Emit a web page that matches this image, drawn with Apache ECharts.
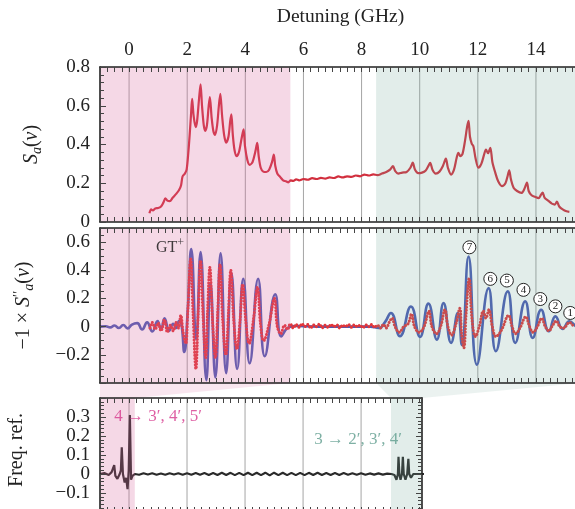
<!DOCTYPE html>
<html><head><meta charset="utf-8">
<script src="https://cdn.jsdelivr.net/npm/echarts@6/dist/echarts.min.js"></script>
<style>html,body{margin:0;padding:0;background:#fff}#c{width:575px;height:509px}</style>
</head><body><div id="c"></div>
<script>
const FONT = '"Liberation Serif","DejaVu Serif",serif';
const INK = '#222';

// ---------- data ----------
const xGrid = [0, 2, 4, 6, 8, 10, 12, 14];
const xGridRef = [0, 2, 4, 6, 8];
const pinkRegion = [-1, 5.55];
const tealRegion = [8.5, 15.6];
const pinkRegionRef = [-1, 0.2];
const tealRegionRef = [9.03, 10.2];

// S_a(nu) (top panel)
const saData = [[0.70,0.045],[0.76,0.065],[0.82,0.06],[0.9,0.07],[1.0,0.072],[1.1,0.08],[1.18,0.1],[1.25,0.122],[1.32,0.11],[1.4,0.108],[1.5,0.125],[1.62,0.145],[1.72,0.165],[1.79,0.19],[1.84,0.235],[1.92,0.25],[1.98,0.27],[2.04,0.36],[2.09,0.46],[2.13,0.55],[2.17,0.635],[2.22,0.55],[2.29,0.49],[2.34,0.52],[2.41,0.64],[2.46,0.71],[2.51,0.6],[2.57,0.5],[2.62,0.47],[2.68,0.5],[2.74,0.6],[2.78,0.645],[2.84,0.54],[2.9,0.47],[2.96,0.45],[3.03,0.5],[3.09,0.6],[3.14,0.662],[3.2,0.55],[3.27,0.45],[3.34,0.41],[3.42,0.44],[3.48,0.52],[3.52,0.555],[3.57,0.45],[3.63,0.37],[3.7,0.34],[3.78,0.36],[3.87,0.43],[3.94,0.478],[3.99,0.39],[4.07,0.32],[4.15,0.295],[4.25,0.31],[4.34,0.36],[4.41,0.408],[4.46,0.34],[4.53,0.28],[4.62,0.26],[4.72,0.258],[4.82,0.27],[4.92,0.31],[4.98,0.348],[5.03,0.29],[5.1,0.25],[5.2,0.232],[5.3,0.215],[5.4,0.21],[5.48,0.205],[5.56,0.215],[5.65,0.212],[5.75,0.22],[5.85,0.215],[6.0,0.222],[6.15,0.218],[6.3,0.226],[6.45,0.222],[6.6,0.228],[6.75,0.224],[6.9,0.23],[7.05,0.227],[7.2,0.235],[7.35,0.23],[7.5,0.236],[7.65,0.233],[7.8,0.24],[7.95,0.236],[8.1,0.245],[8.25,0.24],[8.4,0.246],[8.55,0.242],[8.7,0.25],[8.85,0.258],[8.98,0.27],[9.08,0.288],[9.16,0.262],[9.26,0.25],[9.4,0.255],[9.55,0.258],[9.68,0.28],[9.76,0.306],[9.84,0.27],[9.95,0.252],[10.08,0.255],[10.2,0.265],[10.3,0.29],[10.36,0.305],[10.44,0.27],[10.55,0.25],[10.68,0.26],[10.8,0.29],[10.9,0.327],[10.97,0.28],[11.08,0.245],[11.18,0.27],[11.27,0.33],[11.33,0.357],[11.4,0.34],[11.47,0.35],[11.56,0.42],[11.63,0.49],[11.68,0.522],[11.73,0.44],[11.79,0.405],[11.85,0.39],[11.92,0.33],[12.02,0.28],[12.12,0.3],[12.22,0.35],[12.28,0.374],[12.35,0.355],[12.43,0.383],[12.5,0.31],[12.6,0.255],[12.7,0.21],[12.83,0.185],[12.95,0.2],[13.03,0.24],[13.08,0.267],[13.14,0.22],[13.23,0.177],[13.35,0.16],[13.5,0.15],[13.6,0.17],[13.69,0.204],[13.75,0.16],[13.85,0.138],[13.97,0.13],[14.09,0.123],[14.17,0.14],[14.23,0.152],[14.3,0.125],[14.42,0.11],[14.55,0.095],[14.65,0.09],[14.72,0.105],[14.8,0.08],[14.92,0.065],[15.05,0.055],[15.15,0.052]];

// -1 x S''_a(nu): theory (blue line)
const theoryData = [[-1,0],[-0.8,0.003],[-0.65,-0.005],[-0.5,0.008],[-0.35,-0.01],[-0.2,0.012],[-0.05,-0.012],[0.1,0.015],[0.28,0.025],[0.45,-0.02],[0.62,0.03],[0.8,-0.035],[0.98,0.04],[1.1,-0.02],[1.22,0.06],[1.38,-0.03],[1.52,0.02],[1.62,-0.01],[1.72,0.04],[1.8,0.02],[1.9,-0.18],[2.02,0.12],[2.14,0.55],[2.31,-0.09],[2.46,0.53],[2.66,-0.38],[2.8,0.31],[2.97,-0.36],[3.15,0.52],[3.34,-0.33],[3.52,0.38],[3.72,-0.30],[3.93,0.34],[4.15,-0.26],[4.44,0.34],[4.67,-0.21],[5.03,0.23],[5.24,-0.07],[5.45,-0.01],[5.7,0.005],[6.5,0],[7.5,0],[8.3,0],[8.6,-0.01],[8.8,0.03],[9.01,0.097],[9.32,-0.068],[9.7,0.143],[10.01,-0.073],[10.3,0.163],[10.59,-0.092],[10.82,0.167],[11.08,-0.115],[11.31,0.097],[11.45,-0.13],[11.68,0.497],[11.97,-0.27],[12.37,0.273],[12.62,-0.174],[13.03,0.25],[13.29,-0.115],[13.63,0.179],[13.89,-0.08],[14.18,0.12],[14.44,-0.033],[14.67,0.073],[14.92,-0.016],[15.15,0.037],[15.4,0.0],[15.6,-0.01]];

// -1 x S''_a(nu): measured (red dots)
const measData = [[0.72,-0.01],[0.8,0.03],[0.9,-0.02],[1.0,0.025],[1.1,-0.03],[1.22,0.05],[1.32,-0.04],[1.42,0.01],[1.52,-0.03],[1.62,0.03],[1.7,-0.01],[1.78,0.08],[1.86,-0.04],[1.95,-0.12],[2.02,0.1],[2.12,0.48],[2.2,0.1],[2.3,-0.3],[2.38,0.1],[2.46,0.47],[2.54,0.1],[2.64,-0.22],[2.7,0.1],[2.78,0.42],[2.87,0.05],[2.97,-0.22],[3.05,0.1],[3.13,0.44],[3.22,0.05],[3.33,-0.2],[3.42,0.1],[3.5,0.4],[3.6,0.05],[3.71,-0.16],[3.82,0.05],[3.91,0.3],[4.02,0.03],[4.13,-0.12],[4.28,0.05],[4.42,0.28],[4.52,0.02],[4.63,-0.1],[4.82,0.02],[5.0,0.2],[5.1,0.0],[5.22,-0.05],[5.35,0.01],[5.45,-0.02],[5.55,0.02],[5.65,-0.01],[5.75,0.015],[5.85,-0.005],[5.95,0.02],[6.05,0.0],[6.15,0.015],[6.25,-0.01],[6.35,0.012],[6.45,0.0],[6.55,0.018],[6.65,-0.008],[6.75,0.01],[6.85,-0.005],[6.95,0.015],[7.05,0.0],[7.15,0.012],[7.25,-0.01],[7.35,0.01],[7.45,0.0],[7.55,0.015],[7.65,-0.005],[7.75,0.012],[7.85,0.0],[7.95,0.01],[8.05,-0.008],[8.15,0.012],[8.25,0.0],[8.35,0.015],[8.45,-0.005],[8.55,0.01],[8.65,-0.01],[8.75,0.015],[8.85,-0.01],[8.95,0.03],[9.05,0.06],[9.15,0.0],[9.3,-0.04],[9.45,0.0],[9.6,0.02],[9.72,0.09],[9.82,0.0],[9.98,-0.04],[10.15,0.0],[10.32,0.11],[10.42,0.0],[10.58,-0.05],[10.72,0.0],[10.87,0.12],[10.97,0.0],[11.1,-0.06],[11.25,0.02],[11.38,0.13],[11.44,-0.05],[11.52,-0.15],[11.6,0.1],[11.7,0.34],[11.8,0.05],[11.92,-0.07],[12.05,0.0],[12.19,0.11],[12.28,0.06],[12.38,0.12],[12.5,0.0],[12.62,-0.07],[12.8,-0.03],[13.06,0.08],[13.18,0.0],[13.3,-0.05],[13.45,-0.01],[13.65,0.07],[13.78,0.0],[13.9,-0.04],[14.05,0.0],[14.2,0.06],[14.32,0.0],[14.45,-0.03],[14.55,0.0],[14.7,0.04],[14.82,0.0],[14.95,-0.01],[15.15,0.03],[15.3,0.0]];

// Frequency reference (bottom panel)
const freqRefData = [[-1,0.0],[-0.85,0.005],[-0.7,-0.005],[-0.6,0.01],[-0.54,0.0],[-0.51,0.047],[-0.47,-0.01],[-0.4,-0.025],[-0.32,0.0],[-0.28,0.02],[-0.25,0.14],[-0.21,0.0],[-0.15,-0.045],[-0.1,-0.02],[-0.05,-0.08],[-0.01,0.02],[0.03,0.31],[0.07,-0.03],[0.12,-0.01],[0.2,0.0],[0.35,-0.004],[0.5,0.004],[0.65,-0.003],[0.8,0.004],[0.95,-0.004],[1.1,0.003],[1.25,-0.004],[1.4,0.004],[1.55,-0.003],[1.7,0.004],[1.85,-0.004],[2.0,0.004],[2.15,-0.004],[2.3,0.005],[2.45,-0.004],[2.6,0.005],[2.75,-0.005],[2.9,0.005],[3.05,-0.005],[3.2,0.006],[3.35,-0.005],[3.5,0.006],[3.65,-0.006],[3.8,0.006],[3.95,-0.006],[4.1,0.007],[4.25,-0.006],[4.4,0.007],[4.55,-0.006],[4.7,0.007],[4.85,-0.007],[5.0,0.007],[5.15,-0.006],[5.3,0.007],[5.45,-0.006],[5.6,0.006],[5.75,-0.006],[5.9,0.006],[6.05,-0.006],[6.2,0.006],[6.35,-0.005],[6.5,0.006],[6.65,-0.005],[6.8,0.005],[6.95,-0.005],[7.1,0.005],[7.25,-0.005],[7.4,0.005],[7.55,-0.004],[7.7,0.004],[7.85,-0.004],[8.0,0.004],[8.15,-0.004],[8.3,0.003],[8.45,-0.003],[8.6,0.003],[8.75,-0.003],[8.9,0.002],[9.05,0.0],[9.15,-0.005],[9.22,-0.03],[9.27,0.0],[9.29,0.09],[9.32,0.0],[9.36,-0.03],[9.41,0.0],[9.44,0.09],[9.47,0.0],[9.53,-0.03],[9.59,0.0],[9.63,0.08],[9.66,0.0],[9.72,-0.02],[9.8,0.0],[10.2,0.0]];

// annotations
const circlePos = [[11.71,0.563],[12.43,0.339],[13.0,0.327],[13.57,0.261],[14.15,0.196],[14.67,0.144],[15.18,0.097]];
const circleText = ['7','6','5','4','3','2','1'];
const gtPos = [1.41, 0.56];
const refLabelA = [1.0, 0.305];
const refLabelB = [7.9, 0.179];

// ---------- layout ----------
const X_MIN = -1, X_MAX = 15.55, X_MAX_REF = 10.1;
const PINK = 'rgba(215,100,155,0.25)';
const TEAL = 'rgba(110,165,150,0.20)';

function numFmt(v) {
  const r = Math.round(v * 10) / 10;
  return r === 0 ? '0' : String(r).replace('-', '\u2212');
}
function xLabelFmt(v) {
  const r = Math.round(v);
  if (Math.abs(v - r) > 1e-6 || r % 2 !== 0 || r < 0 || r > 14) return '';
  return String(r);
}
function xAx(gi, pos, max, showLabel, name) {
  return {
    type: 'value', gridIndex: gi, position: pos, min: X_MIN, max: max, interval: 1, z: 10,
    axisLine: {show: true, onZero: false, lineStyle: {color: INK, width: 1.6}},
    axisTick: {show: true, inside: true, length: 5, lineStyle: {color: '#444', width: 1}},
    minorTick: {show: true, splitNumber: 4, length: 5, lineStyle: {color: '#444', width: 1}},
    splitLine: {show: false}, minorSplitLine: {show: false},
    axisLabel: {show: showLabel, margin: 7, fontFamily: FONT, fontSize: 19, color: INK,
      formatter: xLabelFmt, hideOverlap: false, showMinLabel: true, showMaxLabel: true},
    name: name || '', nameLocation: 'middle', nameGap: 40, nameMoveOverlap: false,
    nameTextStyle: {fontFamily: FONT, fontSize: 19.5, color: INK}
  };
}
function yAx(gi, pos, min, max, interval, minorSplit, showFn, name, nameGap, nameStyle) {
  return {
    type: 'value', gridIndex: gi, position: pos, min: min, max: max, interval: interval, z: 10,
    axisLine: {show: true, onZero: false, lineStyle: {color: INK, width: 1.6}},
    axisTick: {show: true, inside: true, length: 6, lineStyle: {color: '#444', width: 1}},
    minorTick: {show: true, splitNumber: minorSplit, length: 4, lineStyle: {color: '#444', width: 1}},
    splitLine: {show: false}, minorSplitLine: {show: false},
    axisLabel: {show: !!showFn, margin: 10, fontFamily: FONT, fontSize: 19, color: INK,
      formatter: v => (showFn && showFn(v)) ? numFmt(v) : '', hideOverlap: false,
      showMinLabel: true, showMaxLabel: true},
    name: name || '', nameLocation: 'middle', nameGap: nameGap || 0, nameRotate: 90,
    nameMoveOverlap: false, nameTextStyle: nameStyle || {}
  };
}
function isMult(v, step) { return Math.abs(v / step - Math.round(v / step)) < 1e-6; }

function gridLines(gi, vals) {
  return {
    type: 'custom', xAxisIndex: gi, yAxisIndex: gi, z: 1, silent: true,
    data: vals.map(v => [v, 0]), encode: {x: 0, y: 1},
    renderItem: (p, api) => {
      const cs = p.coordSys;
      const x = api.coord([api.value(0), 0])[0];
      return {type: 'line', shape: {x1: x, y1: cs.y, x2: x, y2: cs.y + cs.height},
        style: {stroke: '#a5a5a5', lineWidth: 1}};
    }
  };
}
function shades(gi, regions, colors) {
  return {
    type: 'custom', xAxisIndex: gi, yAxisIndex: gi, z: 5, silent: true,
    data: regions.map((r, i) => [r[0], r[1], i]), encode: {x: [0, 1], y: 2},
    renderItem: (p, api) => {
      const cs = p.coordSys;
      let x0 = api.coord([api.value(0), 0])[0], x1 = api.coord([api.value(1), 0])[0];
      x0 = Math.max(x0, cs.x); x1 = Math.min(x1, cs.x + cs.width);
      return {type: 'rect', shape: {x: x0, y: cs.y, width: x1 - x0, height: cs.height},
        style: {fill: colors[api.value(2)]}};
    }
  };
}

const nameBase = {fontFamily: FONT, fontSize: 20, color: INK};
const richName = {
  i: {fontFamily: FONT, fontSize: 20, fontStyle: 'italic', color: INK},
  s: {fontFamily: FONT, fontSize: 14, fontStyle: 'italic', color: INK, padding: [10, 0, 0, 0]},
  p: {fontFamily: FONT, fontSize: 14, color: INK, padding: [0, 0, 10, 0]},
  n: {fontFamily: FONT, fontSize: 20, color: INK}
};

const chart = echarts.init(document.getElementById('c'), null, {renderer: 'canvas'});
const option = {
  animation: false,
  backgroundColor: '#fff',
  grid: [
    {left: 100, top: 67, width: 481, height: 155, outerBoundsMode: 'none'},
    {left: 100, top: 228, width: 481, height: 155, outerBoundsMode: 'none'},
    {left: 100, top: 398, width: 322, height: 114, outerBoundsMode: 'none'}
  ],
  xAxis: [
    xAx(0, 'bottom', X_MAX, false),
    xAx(1, 'bottom', X_MAX, false),
    xAx(2, 'bottom', X_MAX_REF, false),
    xAx(0, 'top', X_MAX, true, 'Detuning (GHz)'),
    xAx(1, 'top', X_MAX, false),
    xAx(2, 'top', X_MAX_REF, false)
  ],
  yAxis: [
    yAx(0, 'left', 0, 0.8, 0.2, 5, v => isMult(v, 0.2), '{i|S}{s|a}{n|(}{i|ν}{n|)}', 56,
      Object.assign({rich: richName}, nameBase)),
    yAx(1, 'left', -0.4, 0.7, 0.2, 4, v => isMult(v, 0.2) && v > -0.3 && v < 0.65,
      '{n|\u22121 × }{i|S}{p|\u2032\u2032}{s|a}{n|(}{i|ν}{n|)}', 64,
      Object.assign({rich: richName}, nameBase)),
    yAx(2, 'left', -0.2, 0.4, 0.1, 5, v => isMult(v, 0.1) && v > -0.15 && v < 0.35,
      'Freq. ref.', 73, Object.assign({padding: [0, 0, 0, 10]}, nameBase)),
    yAx(0, 'right', 0, 0.8, 0.2, 5, null),
    yAx(1, 'right', -0.4, 0.7, 0.2, 4, null),
    yAx(2, 'right', -0.2, 0.4, 0.1, 5, null)
  ],
  series: [
    gridLines(0, xGrid), gridLines(1, xGrid), gridLines(2, xGridRef),
    {type: 'line', xAxisIndex: 0, yAxisIndex: 0, data: saData, showSymbol: false, smooth: 0.3,
      z: 3, lineStyle: {color: '#d22f3e', width: 2.2}},
    {type: 'line', xAxisIndex: 1, yAxisIndex: 1, data: theoryData, showSymbol: false, smooth: 0.5,
      z: 3, lineStyle: {color: '#4a5bb4', width: 2.6}},
    {type: 'line', xAxisIndex: 1, yAxisIndex: 1, data: measData, showSymbol: false, smooth: 0.4,
      z: 4, lineStyle: {color: '#e2363a', width: 3, type: [0.1, 3], cap: 'round'}},
    {type: 'line', xAxisIndex: 2, yAxisIndex: 2, data: freqRefData, showSymbol: false, smooth: false,
      z: 3, lineStyle: {color: '#2a2a2a', width: 2.2}},
    shades(0, [pinkRegion, tealRegion], [PINK, TEAL]),
    shades(1, [pinkRegion, tealRegion], [PINK, TEAL]),
    shades(2, [pinkRegionRef, tealRegionRef], [PINK, TEAL]),
    {type: 'scatter', xAxisIndex: 1, yAxisIndex: 1, z: 12, silent: true,
      data: circlePos.map((p, i) => [p[0], p[1], circleText[i]]),
      symbol: 'circle', symbolSize: 13,
      itemStyle: {color: '#fff', borderColor: INK, borderWidth: 1, opacity: 1},
      label: {show: true, position: 'inside', formatter: p => p.value[2], fontFamily: FONT,
        fontSize: 11, color: INK}},
    {type: 'scatter', xAxisIndex: 1, yAxisIndex: 1, z: 12, silent: true,
      data: [gtPos], symbolSize: 0,
      label: {show: true, position: 'inside', formatter: '{a|GT}{b|+}',
        rich: {a: {fontFamily: FONT, fontSize: 16, color: '#111'},
               b: {fontFamily: FONT, fontSize: 12, color: '#111', padding: [0, 0, 9, 0]}}}},
    {type: 'scatter', xAxisIndex: 2, yAxisIndex: 2, z: 12, silent: true,
      data: [refLabelA], symbolSize: 0,
      label: {show: true, position: 'inside', formatter: '4 \u2192 3\u2032, 4\u2032, 5\u2032',
        fontFamily: FONT, fontSize: 17, color: '#d6378c'}},
    {type: 'scatter', xAxisIndex: 2, yAxisIndex: 2, z: 12, silent: true,
      data: [refLabelB], symbolSize: 0,
      label: {show: true, position: 'inside', formatter: '3 \u2192 2\u2032, 3\u2032, 4\u2032',
        fontFamily: FONT, fontSize: 17, color: '#5e9c8d'}}
  ]
};
chart.setOption(option);

// connector trapezoids between the middle panel and the frequency reference panel
function px(gi, x, y) { return chart.convertToPixel({xAxisIndex: gi, yAxisIndex: gi}, [x, y]); }
chart.setOption({
  graphic: [
    {type: 'polygon', silent: true, z: 0,
      shape: {points: [px(1, pinkRegion[0], -0.4), px(1, pinkRegion[1], -0.4),
                       px(2, pinkRegionRef[1], 0.4), px(2, pinkRegionRef[0], 0.4)]},
      style: {fill: 'rgba(215,100,155,0.16)'}},
    {type: 'polygon', silent: true, z: 0,
      shape: {points: [px(1, tealRegion[0], -0.4), px(1, X_MAX, -0.4),
                       px(2, X_MAX_REF, 0.4), px(2, tealRegionRef[0], 0.4)]},
      style: {fill: 'rgba(110,165,150,0.14)'}}
  ]
});
</script></body></html>
